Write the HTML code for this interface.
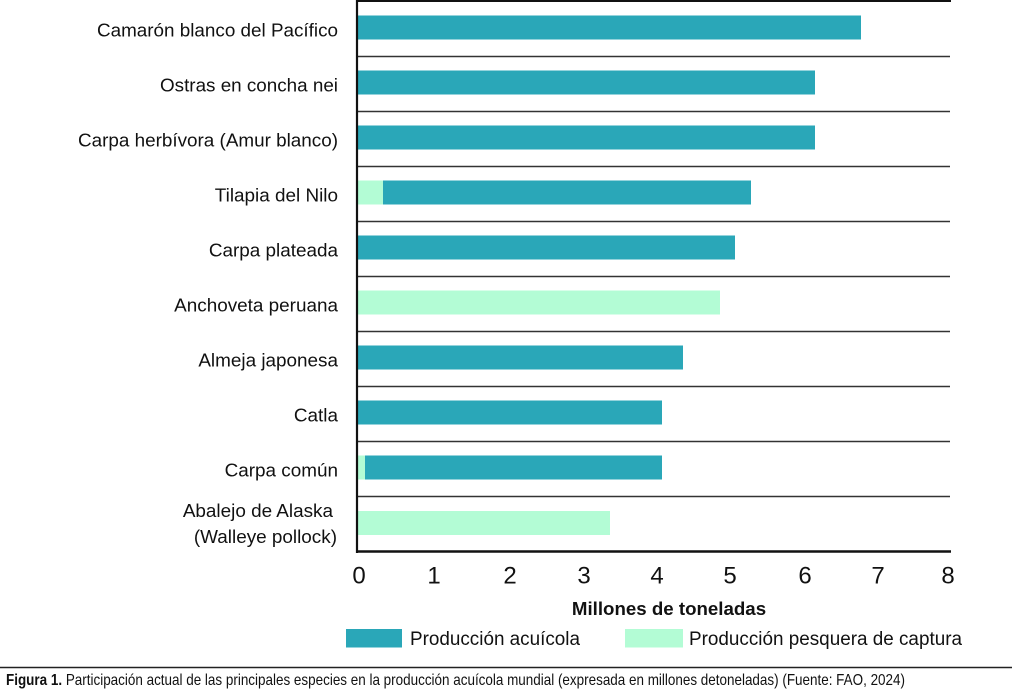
<!DOCTYPE html>
<html>
<head>
<meta charset="utf-8">
<style>
html,body{margin:0;padding:0;background:#fff;}
svg{display:block;}
text{font-family:"Liberation Sans",Arial,sans-serif;fill:#111;}
</style>
</head>
<body>
<svg width="1012" height="691" viewBox="0 0 1012 691" xmlns="http://www.w3.org/2000/svg">
  <rect x="0" y="0" width="1012" height="691" fill="#fff"/>

  <!-- separators -->
  <g stroke="#333" stroke-width="1.5">
    <line x1="357" y1="56.5" x2="950" y2="56.5"/>
    <line x1="357" y1="111.5" x2="950" y2="111.5"/>
    <line x1="357" y1="166.5" x2="950" y2="166.5"/>
    <line x1="357" y1="221.5" x2="950" y2="221.5"/>
    <line x1="357" y1="276.5" x2="950" y2="276.5"/>
    <line x1="357" y1="331.5" x2="950" y2="331.5"/>
    <line x1="357" y1="386.5" x2="950" y2="386.5"/>
    <line x1="357" y1="441.5" x2="950" y2="441.5"/>
    <line x1="357" y1="496.5" x2="950" y2="496.5"/>
  </g>

  <!-- bars -->
  <g>
    <rect x="358" y="15.5" width="503" height="24" fill="#2aa7b8"/>
    <rect x="358" y="70.5" width="457" height="24" fill="#2aa7b8"/>
    <rect x="358" y="125.5" width="457" height="24" fill="#2aa7b8"/>
    <rect x="358" y="180.5" width="25" height="24" fill="#b3fcd5"/>
    <rect x="383" y="180.5" width="368" height="24" fill="#2aa7b8"/>
    <rect x="358" y="235.5" width="377" height="24" fill="#2aa7b8"/>
    <rect x="358" y="290.5" width="362" height="24" fill="#b3fcd5"/>
    <rect x="358" y="345.5" width="325" height="24" fill="#2aa7b8"/>
    <rect x="358" y="400.5" width="304" height="24" fill="#2aa7b8"/>
    <rect x="358" y="455.5" width="7" height="24" fill="#b3fcd5"/>
    <rect x="365" y="455.5" width="297" height="24" fill="#2aa7b8"/>
    <rect x="358" y="511" width="252" height="24" fill="#b3fcd5"/>
  </g>

  <!-- axes -->
  <line x1="356" y1="1" x2="951" y2="1" stroke="#111" stroke-width="2"/>
  <line x1="357" y1="0" x2="357" y2="553" stroke="#111" stroke-width="2.2"/>
  <line x1="356" y1="551.5" x2="951" y2="551.5" stroke="#111" stroke-width="2.5"/>

  <!-- category labels -->
  <g font-size="18.9" text-anchor="end">
    <text x="338" y="36.5" textLength="241" lengthAdjust="spacingAndGlyphs">Camarón blanco del Pacífico</text>
    <text x="338" y="91.5" textLength="178" lengthAdjust="spacingAndGlyphs">Ostras en concha nei</text>
    <text x="338" y="146.5" textLength="260" lengthAdjust="spacingAndGlyphs">Carpa herbívora (Amur blanco)</text>
    <text x="338" y="201.5">Tilapia del Nilo</text>
    <text x="338" y="256.5">Carpa plateada</text>
    <text x="338" y="311.5">Anchoveta peruana</text>
    <text x="338" y="366.5">Almeja japonesa</text>
    <text x="338" y="421.5">Catla</text>
    <text x="338" y="476.5">Carpa común</text>
    <text x="333" y="517">Abalejo de Alaska</text>
    <text x="337" y="543">(Walleye pollock)</text>
  </g>

  <!-- tick labels -->
  <g font-size="24" text-anchor="middle">
    <text x="359" y="583.5">0</text>
    <text x="434" y="583.5">1</text>
    <text x="510" y="583.5">2</text>
    <text x="584" y="583.5">3</text>
    <text x="657" y="583.5">4</text>
    <text x="730" y="583.5">5</text>
    <text x="805" y="583.5">6</text>
    <text x="878" y="583.5">7</text>
    <text x="948" y="583.5">8</text>
  </g>

  <text x="669" y="615" font-size="18.7" font-weight="bold" text-anchor="middle">Millones de toneladas</text>

  <!-- legend -->
  <rect x="346" y="629" width="56" height="18.5" fill="#2aa7b8"/>
  <text x="410" y="645" font-size="19" textLength="170" lengthAdjust="spacingAndGlyphs">Producción acuícola</text>
  <rect x="625" y="629" width="58" height="18.5" fill="#b3fcd5"/>
  <text x="689" y="645" font-size="19" textLength="273" lengthAdjust="spacingAndGlyphs">Producción pesquera de captura</text>

  <!-- caption -->
  <line x1="0" y1="667.5" x2="1012" y2="667.5" stroke="#222" stroke-width="1.6"/>
  <text x="6" y="685" font-size="16" textLength="899" lengthAdjust="spacingAndGlyphs"><tspan font-weight="bold">Figura 1.</tspan> Participación actual de las principales especies en la producción acuícola mundial (expresada en millones detoneladas) (Fuente: FAO, 2024)</text>
</svg>
</body>
</html>
